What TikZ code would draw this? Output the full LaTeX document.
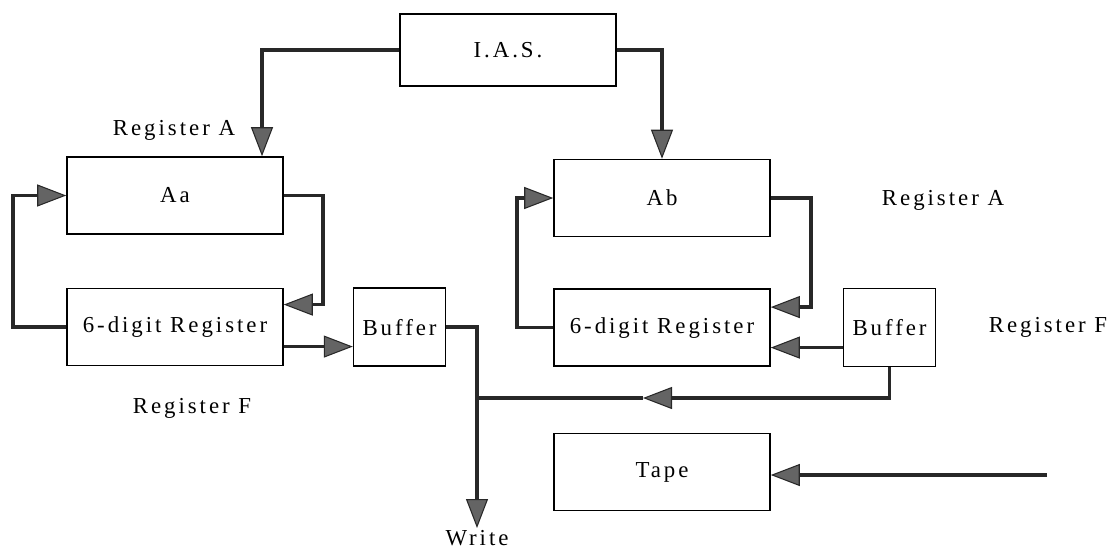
\documentclass[tikz,border=0pt]{standalone}
\usepackage{fontspec}
\setmainfont{Liberation Serif}[LetterSpace=13]
\usepackage{xcolor}
\usepackage{tikz}
\usetikzlibrary{arrows.meta,positioning,calc}
\definecolor{wireDark}{RGB}{40,40,40}
\definecolor{tipGray}{RGB}{100,100,100}

\begin{document}
\begin{tikzpicture}[
    node distance=1.06cm and 1.38cm,
    every node/.style={font=\fontsize{13}{15}\selectfont, align=center},
    regNode/.style={rectangle, draw=black, line width=0.9pt, minimum width=4.32cm, minimum height=1.54cm, inner sep=0pt},
    iasNode/.style={regNode, minimum height=1.44cm},
    bufNode/.style={rectangle, draw=black, line width=0.9pt, minimum width=1.84cm, minimum height=1.56cm, inner sep=0pt},
    tagNode/.style={inner sep=1pt},
    connLine/.style={line width=2.1pt, draw=wireDark},
    connArrow/.style={connLine, -{Triangle[length=5.8mm, width=4.4mm, fill=tipGray, line width=0.6pt]}}
]
\useasboundingbox (0,0) rectangle (22.34,-11.02);

% Nodes
\node (ias) [iasNode] at (10.16,-1.0) {I.A.S.};
\node (aa) [regNode] at (3.5,-3.91) {Aa};
\node (regFa) [regNode, below=of aa] {6-digit Register};
\node (bufa) [bufNode, right=of regFa] {Buffer};
\node (ab) [regNode] at (13.24,-3.96) {Ab};
\node (regFb) [regNode, below=1.02cm of ab] {6-digit Register};
\node (bufb) [bufNode, right=1.44cm of regFb] {Buffer};
\node (tape) [regNode, below=1.32cm of regFb] {Tape};
\node (write) [tagNode, anchor=north] at (9.54,-10.56) {Write};

% Labels
\node (labAa) [tagNode] at (3.48,-2.6) {Register A};
\node (labFa) [tagNode] at (3.84,-8.16) {Register F};
\node (labAb) [tagNode] at (18.86,-4.0) {Register A};
\node (labFb) [tagNode] at (20.96,-6.54) {Register F};

\coordinate (join) at (9.54,-7.96);
\coordinate (tapeIn) at (20.94,-9.5);

% Connectors
\draw [connArrow] (ias.west) -| ([xshift=1.74cm]aa.north);
\draw [connArrow] (ias.east) -| (ab.north);
\draw [connArrow] (aa.east) -- ++(0.78,0) |- ([yshift=0.45cm]regFa.east);
\draw [connArrow] (regFa.west) -- ++(-1.06,0) |- (aa.west);
\draw [connArrow] ([yshift=-0.39cm]regFa.east) -- ([yshift=-0.39cm]bufa.west);
\draw [connArrow] (bufa.east) -| (write.north);
\draw [connArrow] (ab.east) -- ++(0.8,0) |- ([yshift=0.41cm]regFb.east);
\draw [connArrow] (regFb.west) -- ++(-0.72,0) |- (ab.west);
\draw [connArrow] ([yshift=-0.4cm]bufb.west) -- ([yshift=-0.4cm]regFb.east);
\draw [connArrow] (bufb.south) |- ([xshift=3.32cm]join);
\draw [connLine] ([xshift=3.32cm]join) -- (join);
\draw [connArrow] (tapeIn) -- (tapeIn -| tape.east);

\end{tikzpicture}
\end{document}
